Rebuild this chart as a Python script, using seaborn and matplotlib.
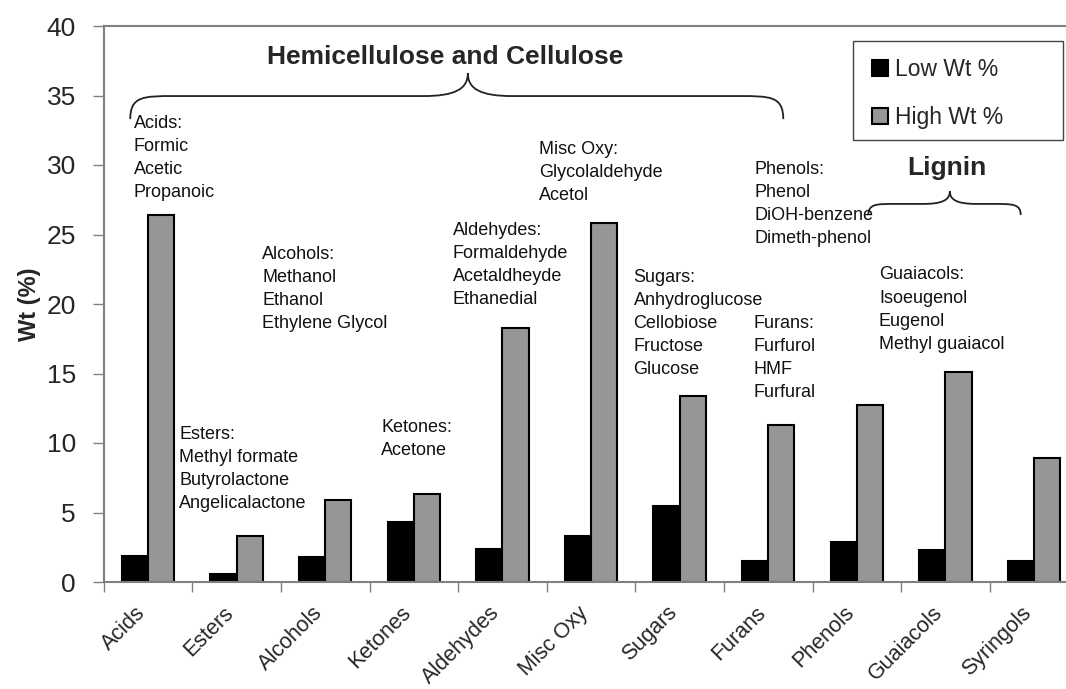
import numpy as np
import pandas as pd
import seaborn as sns
import matplotlib.pyplot as plt
from matplotlib.path import Path
from matplotlib.patches import PathPatch, Rectangle
from matplotlib.transforms import ScaledTranslation

categories = ['Acids', 'Esters', 'Alcohols', 'Ketones', 'Aldehydes', 'Misc Oxy',
              'Sugars', 'Furans', 'Phenols', 'Guaiacols', 'Syringols']
low_wt = [1.9, 0.6, 1.8, 4.3, 2.4, 3.3, 5.5, 1.5, 2.9, 2.3, 1.5]
high_wt = [26.4, 3.3, 5.9, 6.3, 18.3, 25.8, 13.4, 11.3, 12.7, 15.1, 8.9]
series = ['Low Wt %', 'High Wt %']

# compound lists written over the bars
notes = [
    'Acids:\nFormic\nAcetic\nPropanoic',
    'Esters:\nMethyl formate\nButyrolactone\nAngelicalactone',
    'Alcohols:\nMethanol\nEthanol\nEthylene Glycol',
    'Ketones:\nAcetone',
    'Aldehydes:\nFormaldehyde\nAcetaldheyde\nEthanedial',
    'Misc Oxy:\nGlycolaldehyde\nAcetol',
    'Sugars:\nAnhydroglucose\nCellobiose\nFructose\nGlucose',
    'Furans:\nFurfurol\nHMF\nFurfural',
    'Phenols:\nPhenol\nDiOH-benzene\nDimeth-phenol',
    'Guaiacols:\nIsoeugenol\nEugenol\nMethyl guaiacol',
]
note_x = [-0.16, 0.35, 1.29, 2.63, 3.44, 4.41, 5.48, 6.83, 6.84, 8.25]
note_y = [33.6, 11.2, 24.2, 11.7, 25.9, 31.7, 22.5, 19.2, 30.3, 22.7]

df = pd.DataFrame({
    'Category': categories * 2,
    'Series': [series[0]] * len(categories) + [series[1]] * len(categories),
    'Wt': low_wt + high_wt,
})

sns.set_style('white')
plt.rcParams['font.family'] = ['Liberation Sans', 'DejaVu Sans']

fig = plt.figure(figsize=(10.66, 6.89), dpi=100)
ax = fig.add_axes([103.7 / 1066, 107 / 689, 11 * 88.6 / 1066, 556 / 689])

sns.barplot(data=df, x='Category', y='Wt', hue='Series', order=categories,
            hue_order=series, palette={'Low Wt %': 'black', 'High Wt %': '#969696'},
            edgecolor='black', linewidth=1.5, width=0.59, gap=0, errorbar=None,
            saturation=1, ax=ax)

ax.set_xlim(-0.5, 10.5)
ax.set_ylim(0, 40)
ax.set_yticks(range(0, 41, 5))
ax.set_xlabel('')
ax.set_ylabel('Wt (%)', fontsize=17, fontweight='bold', labelpad=4)

for s in ax.spines.values():
    s.set_color('#808080')
    s.set_linewidth(1.5)

ax.tick_params(axis='y', labelsize=19, length=8, width=1, color='#808080',
               direction='out', pad=12, left=True)
ax.set_xticks(np.arange(len(categories)))
ax.set_xticklabels(categories, rotation=45, ha='right', va='center',
                   rotation_mode='anchor', fontsize=15.5)
ax.tick_params(axis='x', which='major', length=0, pad=20)
for lab in ax.get_xticklabels():
    lab.set_transform(lab.get_transform() + ScaledTranslation(-0.06, 0, fig.dpi_scale_trans))
ax.set_xticks(np.arange(-0.5, 11, 1), minor=True)
ax.tick_params(axis='x', which='minor', length=7, width=1, color='#808080',
               direction='out', bottom=True)

# one text per line, stepped down by a fixed line height in points
line_step = 16.6
for txt, x, y in zip(notes, note_x, note_y):
    for j, line in enumerate(txt.split('\n')):
        ax.annotate(line, (x, y), xytext=(0, -j * line_step),
                    textcoords='offset points', ha='left', va='top',
                    fontsize=13, color='#111111')


def brace(ax, x0, x1, xm, yf, ytip, yend, c):
    verts = [
        (x0, yend), (x0, yf), (x0 + c * 0.3, yf), (x0 + c, yf),
        (xm - c, yf),
        (xm - c * 0.3, yf), (xm, yf + (ytip - yf) * 0.3), (xm, ytip),
        (xm, yf + (ytip - yf) * 0.3), (xm + c * 0.3, yf), (xm + c, yf),
        (x1 - c, yf),
        (x1 - c * 0.3, yf), (x1, yf), (x1, yend),
    ]
    codes = [Path.MOVETO, Path.CURVE4, Path.CURVE4, Path.CURVE4,
             Path.LINETO,
             Path.CURVE4, Path.CURVE4, Path.CURVE4,
             Path.CURVE4, Path.CURVE4, Path.CURVE4,
             Path.LINETO,
             Path.CURVE4, Path.CURVE4, Path.CURVE4]
    ax.add_patch(PathPatch(Path(verts, codes), fill=False, edgecolor='#222222',
                           linewidth=1.3, clip_on=False))


brace(ax, -0.20, 7.17, 3.61, 34.96, 36.6, 33.3, 0.5)
brace(ax, 8.13, 9.85, 9.05, 27.2, 28.1, 26.4, 0.3)

ax.text(3.35, 37.8, 'Hemicellulose and Cellulose', ha='center', va='center',
        fontsize=19, fontweight='bold')
ax.text(9.02, 29.8, 'Lignin', ha='center', va='center', fontsize=19,
        fontweight='bold')

handles, labels = ax.get_legend_handles_labels()
leg = ax.legend(handles, labels, loc='upper left',
                bbox_to_anchor=(872 / 1066, 1 - 58 / 689),
                bbox_transform=fig.transFigure, fontsize=16.5, frameon=False,
                handlelength=0.7, handleheight=0.7, handletextpad=0.3,
                labelspacing=1.1, borderpad=0, borderaxespad=0)
fig.patches.append(Rectangle((853 / 1066, 1 - 140 / 689), 210 / 1066, 99 / 689,
                             transform=fig.transFigure, fill=False,
                             edgecolor='#444444', linewidth=1))

fig.savefig('out.png', dpi=100)
